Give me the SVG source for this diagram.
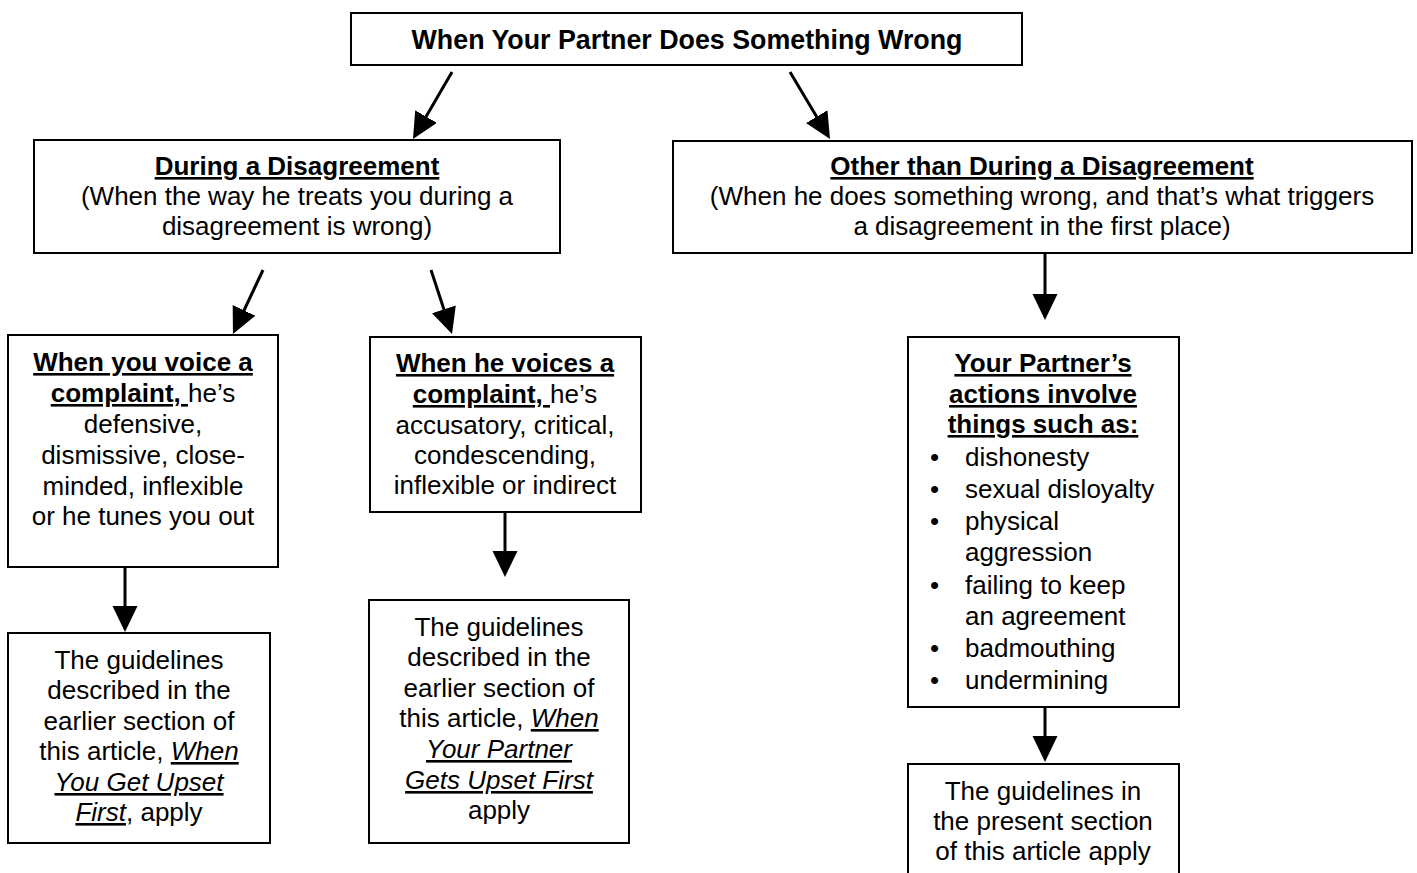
<svg xmlns="http://www.w3.org/2000/svg" width="1417" height="873" viewBox="0 0 1417 873">
<style>
.box{fill:#fff;stroke:#000;stroke-width:2}
text{font-family:"Liberation Sans",Arial,sans-serif;font-size:26px;fill:#000}
.c{text-anchor:middle}
.b{font-weight:bold}
.bu{font-weight:bold;text-decoration:underline}
.iu{font-style:italic;text-decoration:underline}
.conn{stroke:#000;stroke-width:3;fill:none}
</style>
<defs>
<marker id="ah" markerUnits="userSpaceOnUse" markerWidth="26" markerHeight="26" refX="16" refY="12.5" orient="auto">
<path d="M0,0 L26,12.5 L0,25 z" fill="#000"/>
</marker>
</defs>
<rect width="1417" height="873" fill="#fff"/>
<g id="connectors">
<line class="conn" x1="452" y1="72" x2="418" y2="130.4" marker-end="url(#ah)"/>
<line class="conn" x1="790" y1="72" x2="824.9" y2="130.4" marker-end="url(#ah)"/>
<line class="conn" x1="1045" y1="253" x2="1045" y2="310" marker-end="url(#ah)"/>
<line class="conn" x1="263" y1="270" x2="237.2" y2="324.9" marker-end="url(#ah)"/>
<line class="conn" x1="431" y1="270" x2="448.9" y2="324.5" marker-end="url(#ah)"/>
<line class="conn" x1="125" y1="567" x2="125" y2="622" marker-end="url(#ah)"/>
<line class="conn" x1="505" y1="512" x2="505" y2="567" marker-end="url(#ah)"/>
<line class="conn" x1="1045" y1="707" x2="1045" y2="752" marker-end="url(#ah)"/>
</g>
<g id="root">
<rect class="box" x="351" y="13" width="671" height="52"/>
<text class="c b" x="687" y="49" style="font-size:26.8px">When Your Partner Does Something Wrong</text>
</g>
<g id="during">
<rect class="box" x="34" y="140" width="526" height="113"/>
<text class="c" x="297" y="175"><tspan class="bu">During a Disagreement</tspan></text>
<text class="c" x="297" y="205">(When the way he treats you during a</text>
<text class="c" x="297" y="235">disagreement is wrong)</text>
</g>
<g id="other">
<rect class="box" x="673" y="141" width="739" height="112"/>
<text class="c" x="1042" y="175"><tspan class="bu">Other than During a Disagreement</tspan></text>
<text class="c" x="1042" y="205">(When he does something wrong, and that’s what triggers</text>
<text class="c" x="1042" y="235">a disagreement in the first place)</text>
</g>
<g id="you-voice">
<rect class="box" x="8" y="335" width="270" height="232"/>
<text class="c" x="143" y="371"><tspan class="bu">When you voice a</tspan></text>
<text class="c" x="143" y="402"><tspan class="bu">complaint, </tspan><tspan>he’s</tspan></text>
<text class="c" x="143" y="433">defensive,</text>
<text class="c" x="143" y="464">dismissive, close-</text>
<text class="c" x="143" y="495">minded, inflexible</text>
<text class="c" x="143" y="525">or he tunes you out</text>
</g>
<g id="he-voices">
<rect class="box" x="370" y="337" width="271" height="175"/>
<text class="c" x="505" y="372"><tspan class="bu">When he voices a</tspan></text>
<text class="c" x="505" y="403"><tspan class="bu">complaint, </tspan><tspan>he’s</tspan></text>
<text class="c" x="505" y="434">accusatory, critical,</text>
<text class="c" x="505" y="464">condescending,</text>
<text class="c" x="505" y="494">inflexible or indirect</text>
</g>
<g id="guide-you">
<rect class="box" x="8" y="633" width="262" height="210"/>
<text class="c" x="139" y="669">The guidelines</text>
<text class="c" x="139" y="699">described in the</text>
<text class="c" x="139" y="730">earlier section of</text>
<text class="c" x="139" y="760">this article, <tspan class="iu">When</tspan></text>
<text class="c" x="139" y="791"><tspan class="iu">You Get Upset</tspan></text>
<text class="c" x="139" y="821"><tspan class="iu">First</tspan>, apply</text>
</g>
<g id="guide-partner">
<rect class="box" x="369" y="600" width="260" height="243"/>
<text class="c" x="499" y="636">The guidelines</text>
<text class="c" x="499" y="666">described in the</text>
<text class="c" x="499" y="697">earlier section of</text>
<text class="c" x="499" y="727">this article, <tspan class="iu">When</tspan></text>
<text class="c" x="499" y="758"><tspan class="iu">Your Partner</tspan></text>
<text class="c" x="499" y="789"><tspan class="iu">Gets Upset First</tspan></text>
<text class="c" x="499" y="819">apply</text>
</g>
<g id="actions">
<rect class="box" x="908" y="337" width="271" height="370"/>
<text class="c" x="1043" y="372"><tspan class="bu">Your Partner’s</tspan></text>
<text class="c" x="1043" y="403"><tspan class="bu">actions involve</tspan></text>
<text class="c" x="1043" y="433"><tspan class="bu">things such as:</tspan></text>
<text x="930" y="466">•</text><text x="965" y="466">dishonesty</text>
<text x="930" y="498">•</text><text x="965" y="498">sexual disloyalty</text>
<text x="930" y="530">•</text><text x="965" y="530">physical</text>
<text x="965" y="561">aggression</text>
<text x="930" y="594">•</text><text x="965" y="594">failing to keep</text>
<text x="965" y="625">an agreement</text>
<text x="930" y="657">•</text><text x="965" y="657">badmouthing</text>
<text x="930" y="689">•</text><text x="965" y="689">undermining</text>
</g>
<g id="guide-present">
<rect class="box" x="908" y="764" width="271" height="130"/>
<text class="c" x="1043" y="800">The guidelines in</text>
<text class="c" x="1043" y="830">the present section</text>
<text class="c" x="1043" y="860">of this article apply</text>
</g>
</svg>
